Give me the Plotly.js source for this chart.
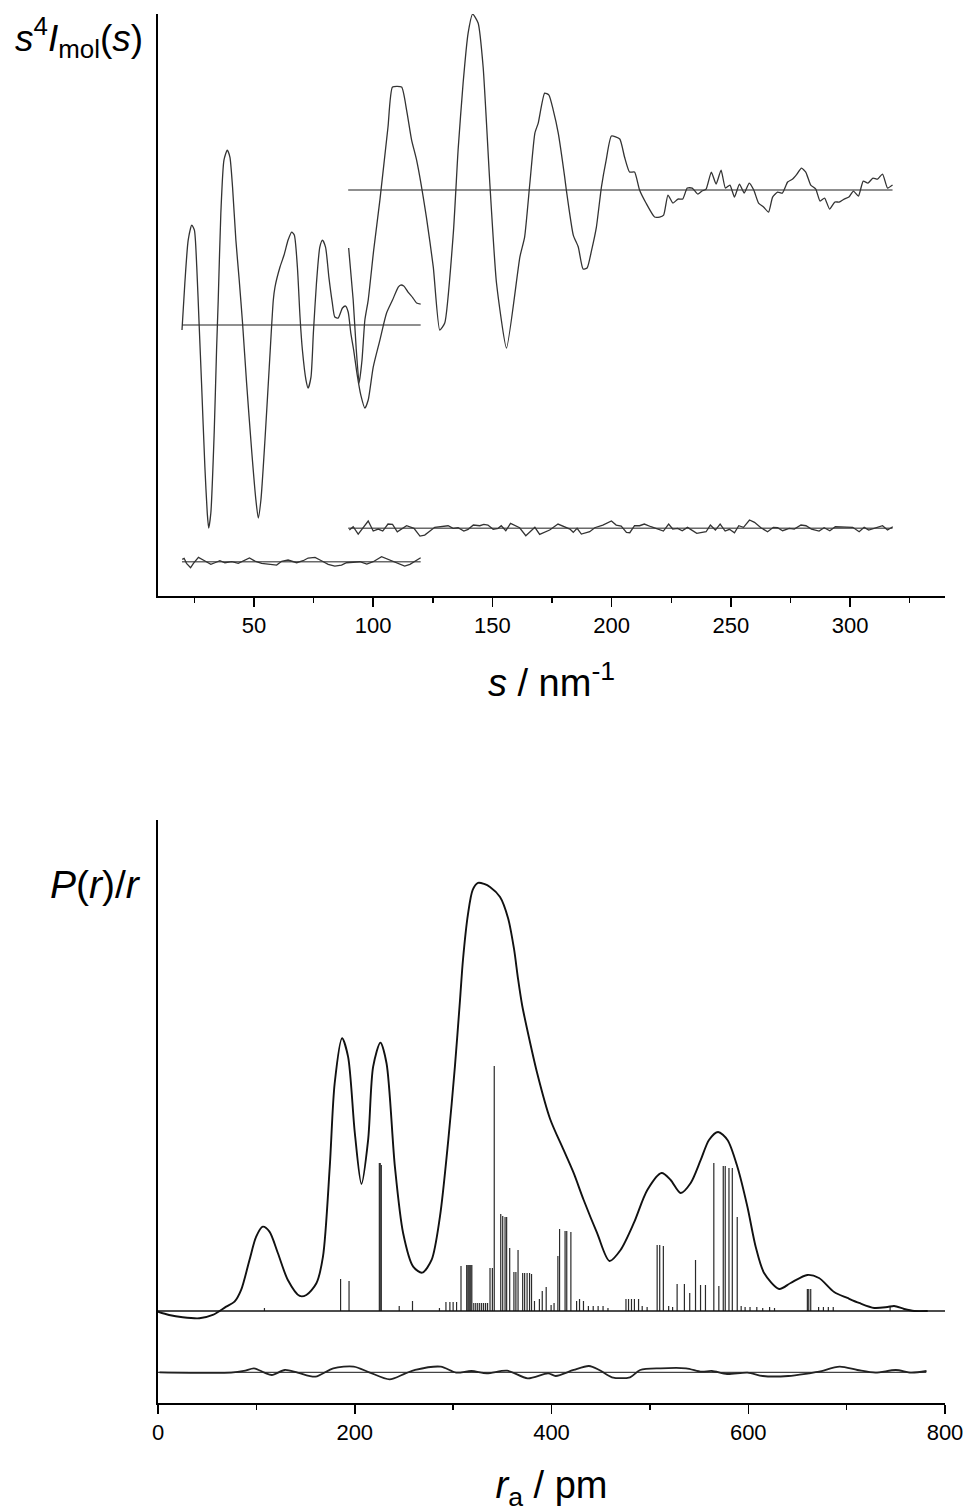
<!DOCTYPE html>
<html>
<head>
<meta charset="utf-8">
<script src="https://cdn.plot.ly/plotly-3.0.1.min.js"></script>
<style>html,body{margin:0;padding:0;background:#fff;}#chart{width:970px;height:1512px;}</style>
</head>
<body>
<div id="chart"></div>
<script>
// ---------- Top panel: s^4 I_mol(s) ----------
// long camera distance curve (relative to its baseline)
const longS = [19.8,21.0,22.4,23.9,25.0,26.0,27.0,28.0,29.4,30.4,31.0,31.9,33.3,34.3,35.0,36.1,37.4,38.8,39.9,41.0,42.4,43.8,45.2,46.9,49.0,50.8,51.8,52.9,54.6,56.4,58.1,58.8,60.9,62.6,64.3,65.8,66.9,68.2,69.3,70.3,71.8,72.7,73.9,74.9,76.2,77.6,78.7,80.0,81.4,82.8,83.9,85.3,87.1,88.4,89.5,90.6,91.8,93.3,94.8,96.5,97.9,100.0,102.8,105.6,108.1,110.5,111.5,112.8,114.6,116.7,118.2,119.9];
const longV = [-5,42,85,100,95,58,0,-58,-142,-188,-203,-188,-108,-25,25,112,165,175,168,138,85,45,2,-58,-125,-175,-193,-175,-115,-42,25,38,58,70,85,93,90,58,8,-25,-55,-63,-52,-8,42,78,85,78,48,23,8,7,17,19,13,-8,-25,-50,-70,-83,-75,-42,-15,12,25,38,40,39,33,27,22,21];
// short camera distance curve
const shortS = [89.7,91.6,92.9,94.1,95.3,96.5,97.9,100.2,102.8,106.2,108.1,111.9,114.0,116.1,118.2,122.3,125.2,127.9,130.0,133.6,135.6,137.7,139.8,141.7,144.0,146.1,149.0,151.7,155.9,161.5,163.5,165.7,167.8,169.2,171.9,173.7,175.5,177.6,180.3,181.0,183.9,186.0,188.0,189.7,191.6,193.6,195.7,197.7,199.9,203.4,205.4,207.5,209.6,211.7,214.4,218.0,220.1,221.8,223.6,225.7,227.8,229.8,231.7,233.8,236.1,237.9,239.6,241.8,243.8,245.9,247.7,249.6,251.5,253.6,255.6,257.7,259.6,261.6,263.7,265.8,267.5,269.6,271.6,273.8,275.9,277.7,279.6,281.4,283.5,285.6,287.4,289.3,291.4,293.6,295.4,297.5,299.5,301.4,303.5,305.5,307.5,309.6,311.5,313.6,315.7,317.8];
const shortV = [-58,-110,-160,-193,-170,-130,-110,-60,-10,63,103,103,80,50,30,-27,-77,-140,-133,-43,40,107,157,176,167,123,3,-93,-158,-67,-47,7,57,67,97,95,80,57,13,0,-45,-57,-79,-78,-60,-37,3,30,54,51,33,18,18,0,-13,-27,-27,-25,-5,-13,-9,-9,2,2,-4,-1,1,18,6,20,2,5,-7,6,-3,7,0,-13,-17,-22,-7,-2,-3,8,11,16,22,18,5,1,-11,-8,-19,-12,-12,-9,-7,-1,-6,9,7,12,11,16,2,5];
// residuals
const longResS = [19.9,20.7,21.7,23.4,24.6,26.7,28.7,31.9,33.6,35.7,37.8,40.7,43.4,45.5,48.1,50.4,53.2,55.9,59.5,61.6,64.3,67.9,70.6,72.7,75.6,78.3,81.1,83.9,86.7,88.8,91.6,94.4,97.3,100.0,103.5,106.2,109.8,113.2,115.4,117.9,119.9];
const longResV = [2.4,3.4,-1.6,-6,-1.6,4.4,1.7,-2.6,-1,1,-1,0,-1.6,1,3.7,0.7,-1.6,-2.3,-3.3,0.4,1.7,-1,1,3.7,4.4,1,-2.6,-4.3,-3.3,-1,-0.3,0,-2.3,0,5,2.4,-1.6,-4.3,-2.6,1,4];
const shortResS = [90.0,91.6,93.7,97.9,100.0,102.1,104.0,106.2,108.1,110.1,114.0,117.1,119.6,121.6,125.8,131.4,133.5,135.6,138.0,139.8,142.0,144.7,146.4,148.1,150.3,152.4,153.7,155.6,157.6,161.4,164.0,167.8,169.8,174.0,177.5,182.5,183.9,185.5,187.3,190.8,192.9,196.3,199.9,201.9,204.0,206.2,207.6,209.6,211.7,213.7,216.5,219.3,221.7,223.9,225.6,227.7,229.6,231.8,235.7,239.6,241.4,243.5,245.5,247.6,249.4,251.5,253.3,255.3,257.8,259.9,262.6,265.4,267.8,269.6,271.7,274.5,276.6,279.4,281.5,283.8,287.0,289.1,291.5,293.8,301.1,303.8,305.9,307.8,310.5,313.6,315.7,317.9];
const shortResV = [-1.7,1.6,-5.7,7.3,-2.7,-0.7,-2.7,4.3,4,-3.4,2.6,0,-7.7,-6.7,1,2.6,0,0.6,-2.7,-1,3.3,2.6,4,3.3,-1,0,2.6,-2.4,5,0.6,-7.4,1,-6,-1.7,4.3,-0.7,-4,0,-5.7,-3.4,0.6,3.3,7.3,3.3,2.3,-4,-4.4,2.6,2.6,4.3,1.6,-0.7,-2.7,4.3,-0.7,0,-2.4,1,-5,-3.4,3.3,-1.7,4.3,-2.7,-1,-4.4,2.6,1,8.3,6,0.6,-3.4,1,0.6,-2.4,0,-0.7,3.3,2.6,-0.7,-2.7,0.6,-2.4,1.6,1,-3.4,1,-1.7,0,2.6,-1.7,1.6];
// vertical offsets of the stacked curves (arbitrary units)
const longOffset = 271, shortOffset = 406, longResOffset = 34.3, shortResOffset = 67.7;
const longRange = [19.8, 119.9], shortRange = [89.5, 317.8];

// ---------- Bottom panel: P(r)/r ----------
const radR = [0,11.3,25.1,42.1,55.7,69.3,77.8,84.5,93.0,99.8,106.5,113.3,121.9,132.0,144.0,150.8,161.0,167.7,174.6,179.6,187.1,193.2,200.1,206.8,213.6,218.7,226.1,232.3,240.8,249.2,259.4,268.6,278.1,286.6,295.1,301.8,307.0,310.0,315.0,319.9,325.3,331.5,337.5,347.7,355.8,361.9,366.0,370.1,375.2,385.4,398.6,412.3,422.5,432.7,446.3,458.9,470.2,483.7,497.4,511.9,521.1,531.3,541.5,551.7,560.1,569.3,578.9,589.0,599.2,607.6,616.1,631.4,643.1,660.1,671.9,687.3,700.8,712.7,728.0,741.6,748.3,758.5,768.7,782.4];
const radV = [-0.7,-4,-6.3,-7.3,-4,4.3,9.3,21,51,74.3,84.3,79.3,57.7,31,15,16,27.7,54.3,144.3,227.7,272.7,254.3,177.7,127,171,244.3,268.3,247.7,144.3,77.7,44.3,38.3,51,94.3,171,244.3,311,351,396,421,428,427,424,414,393,362,332,306,282,238,192,161,138,111,78,50,61,88,121,138,131,118,128,151,171,179,171,144,104,64,38,22,28,36,33,19,13,8,3,4,5,2,0,0];
const radResR = [1.6,74.3,87.3,97.7,108.1,115.8,128.9,141.9,160.0,178.2,199.0,214.7,235.4,251.0,261.4,287.4,303.0,318.6,334.2,354.9,375.8,396.6,404.3,422.5,438.1,448.6,461.4,479.8,490.1,510.9,536.8,552.5,563.0,578.5,599.3,614.8,640.7,661.7,672.1,692.9,711.0,729.2,750.0,765.6,781.2];
const radResV = [0,-0.3,1.3,4,-0.3,-2.7,2.3,-0.3,-4.4,4,5.6,0,-7,-1.3,2.3,5.6,-0.3,1.3,-1,1.6,-6,-1,-3.7,2.3,6.3,2.3,-5,-5,2.3,4,4,0.6,1.3,-1.7,-0.3,-3.7,-3.7,-1,0.6,5.6,2.3,-0.3,2.3,-0.3,1.3];
// interatomic distance sticks (position, relative weight)
const stickR = [108.2,185.6,194.2,225.0,225.9,227.0,245.2,258.7,286.1,292.7,296.7,300.0,303.5,308.0,313.8,315.0,316.0,317.0,318.0,319.0,321,323,325,327,329,331,333,335,337.5,339.9,341.8,348.4,350.4,352.8,354.4,357.5,361.8,363.8,366.0,370.7,372.7,375.2,377.7,379.7,382.7,387.7,390.6,394.6,399.6,402.6,406.5,408.2,413.8,415.5,419.7,425.5,428.5,432.5,437.5,442.4,447.4,452.4,457.4,475.7,478.3,481.3,484.3,488.5,492.2,497.2,507.4,510.0,513.7,519.1,523.1,527.7,535.1,540.5,546.4,551.5,556.5,565.0,570.1,574.6,576.6,580.4,583.8,588.8,592.8,596.8,601.8,608.7,614.7,621.7,626.7,660.1,661.5,663.5,671.5,676.4,681.4,686.4,744.2];
const stickH = [3,32,30,148,148,146,5,10,3,9,9,9,9,45,46,46,46,46,46,46,8,8,8,8,8,8,8,8,43,43,245,97,95,94,94,63,39,39,61,38,38,38,38,37,10,12,20,24,6,8,55,82,80,80,79,10,12,10,5,5,5,5,3,12,12,12,12,12,5,4,66,66,65,5,4,27,27,18,51,26,26,148,25,145,145,143,143,94,5,4,4,4,3,4,3,22,22,22,4,4,4,4,4];
const radOffset = 92, radResOffset = 30.7;
const radRange = [0, 800], radResRange = [0, 781];

// tick values
const topTicks = [50,100,150,200,250,300];
const bottomTicks = [0,200,400,600,800];

const FONT = 'Liberation Sans, Arial, Helvetica, sans-serif';
const shift = (arr, off) => arr.map(v => v + off);

const curveCol = '#333', baseCol = '#6a6a6a';
const traces = [];
function line(x, y, opts, xa, ya) {
  traces.push(Object.assign({type:'scatter', mode:'lines', x:x, y:y, xaxis:xa, yaxis:ya,
    hoverinfo:'skip', showlegend:false}, opts));
}
// top baselines
line(longRange, [longOffset,longOffset], {line:{color:baseCol,width:1.5}}, 'x','y');
line(shortRange, [shortOffset,shortOffset], {line:{color:baseCol,width:1.5}}, 'x','y');
line(longRange, [longResOffset,longResOffset], {line:{color:baseCol,width:1.5}}, 'x','y');
line(shortRange, [shortResOffset,shortResOffset], {line:{color:baseCol,width:1.5}}, 'x','y');
// top curves
line(longS, shift(longV,longOffset), {line:{color:curveCol,width:1.3,shape:'spline',smoothing:0.6}}, 'x','y');
line(shortS, shift(shortV,shortOffset), {line:{color:curveCol,width:1.3,shape:'spline',smoothing:0.5}}, 'x','y');
line(longResS, shift(longResV,longResOffset), {line:{color:curveCol,width:1.3}}, 'x','y');
line(shortResS, shift(shortResV,shortResOffset), {line:{color:curveCol,width:1.3}}, 'x','y');

// bottom: sticks
const sx = [], sy = [];
stickR.forEach((r,i) => { sx.push(r,r,null); sy.push(radOffset, radOffset+stickH[i], null); });
line(sx, sy, {line:{color:'#2a2a2a',width:1.2}, connectgaps:false}, 'x2','y2');
// bottom baselines
line(radRange, [radOffset,radOffset], {line:{color:'#111',width:1.3}}, 'x2','y2');
line(radResRange, [radResOffset,radResOffset], {line:{color:'#444',width:1.3}}, 'x2','y2');
// bottom curves
line(radR, shift(radV,radOffset), {line:{color:'#111',width:1.9,shape:'spline',smoothing:0.8}}, 'x2','y2');
line(radResR, shift(radResV,radResOffset), {line:{color:'#222',width:1.8,shape:'spline',smoothing:0.8}}, 'x2','y2');

const xCommon = {
  showline:true, linewidth:2, linecolor:'#000', showgrid:false, zeroline:false,
  ticks:'outside', ticklen:9, tickwidth:1.5, tickcolor:'#000',
  tickfont:{family:FONT, size:22, color:'#000'},
  domain:[0,1]
};
const yCommon = {
  showline:true, linewidth:2, linecolor:'#000', showgrid:false, zeroline:false,
  ticks:'', showticklabels:false
};
const layout = {
  width:970, height:1512,
  margin:{l:158, r:25, t:0, b:0, pad:0},
  paper_bgcolor:'#fff', plot_bgcolor:'#fff',
  font:{family:FONT, color:'#000'},
  showlegend:false,
  xaxis: Object.assign({}, xCommon, {
    anchor:'y', range:[9.74, 339.8], tickmode:'array', tickvals:topTicks,
    minor:{tickmode:'linear', tick0:25, dtick:50, ticks:'outside', ticklen:5, tickwidth:1.5, tickcolor:'#000'},
    title:{text:'<i>s</i> / nm<sup>-1</sup>', font:{family:FONT, size:38, color:'#000'}, standoff:32}
  }),
  yaxis: Object.assign({}, yCommon, {anchor:'x', domain:[0.6058, 0.9907], range:[0,582]}),
  xaxis2: Object.assign({}, xCommon, {
    anchor:'y2', range:[0,800], tickmode:'array', tickvals:bottomTicks,
    minor:{tickmode:'linear', tick0:100, dtick:200, ticks:'outside', ticklen:5, tickwidth:1.5, tickcolor:'#000'},
    title:{text:'<i>r</i><sub>a</sub> / pm', font:{family:FONT, size:38, color:'#000'}, standoff:30}
  }),
  yaxis2: Object.assign({}, yCommon, {anchor:'x2', domain:[0.0721, 0.4577], range:[0,583]}),
  annotations:[
    {xref:'paper', yref:'paper', x:-0.0165, y:0.9749, xanchor:'right', yanchor:'middle', showarrow:false,
     text:'<i>s</i><sup>4</sup><i>I</i><sub>mol</sub>(<i>s</i>)', font:{family:FONT, size:37, color:'#000'}},
    {xref:'paper', yref:'paper', x:-0.0190, y:0.4147, xanchor:'right', yanchor:'middle', showarrow:false,
     text:'<i>P</i>(<i>r</i>)/<i>r</i>', font:{family:FONT, size:39, color:'#000'}}
  ]
};
Plotly.newPlot('chart', traces, layout, {staticPlot:true, displayModeBar:false});
</script>
</body>
</html>
